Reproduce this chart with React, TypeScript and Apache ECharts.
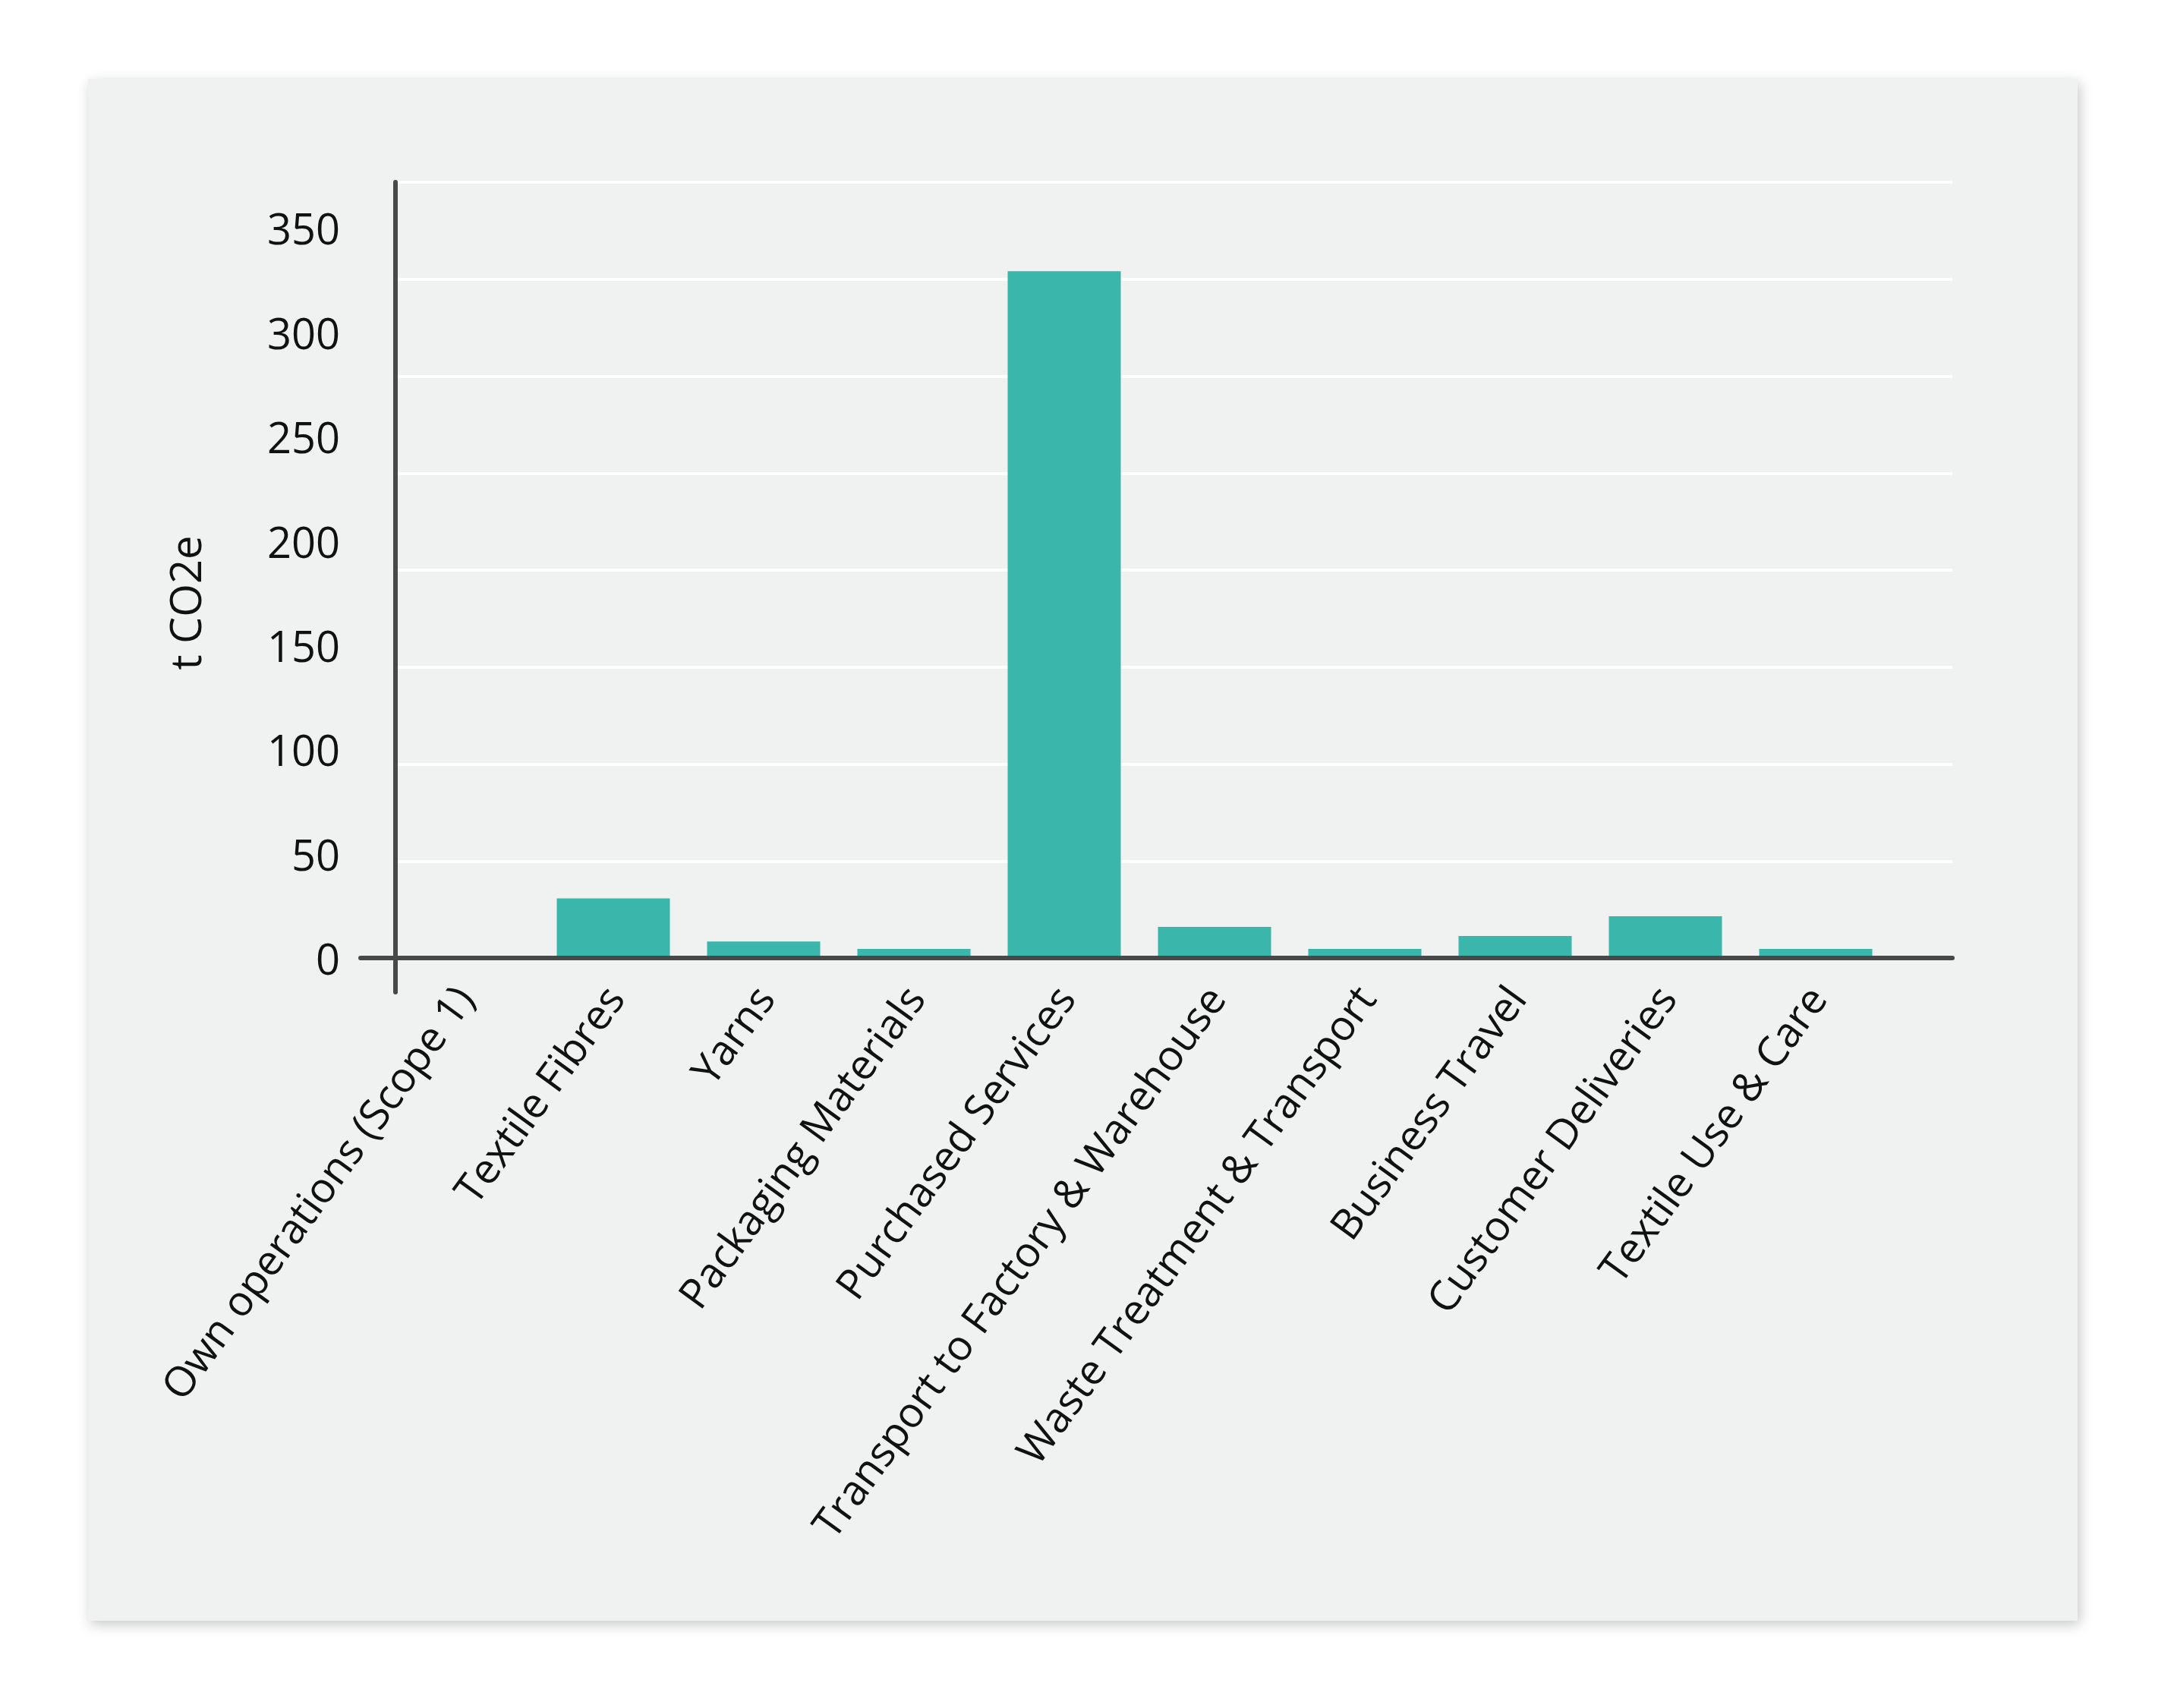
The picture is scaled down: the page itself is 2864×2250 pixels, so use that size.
import React, { useEffect, useRef } from "react";
import * as echarts from "echarts";

const categories = [
  "Own operations (Scope 1)",
  "Textile Fibres",
  "Yarns",
  "Packaging Materials",
  "Purchased Services",
  "Transport to Factory & Warehouse",
  "Waste Treatment & Transport",
  "Business Travel",
  "Customer Deliveries",
  "Textile Use & Care",
];
const emissions = [0, 28.6, 7.9, 4.4, 329.3, 14.9, 4.4, 10.6, 20.0, 4.4];
const yTicks = [0, 50, 100, 150, 200, 250, 300, 350];
const yAxisName = "t CO2e";

const FONT = "'Open Sans', 'Noto Sans', sans-serif";
const AXIS_COLOR = "#464948";
const BAR_COLOR = "#3ab6aa";

export default function App() {
  const ref = useRef<HTMLDivElement>(null);

  useEffect(() => {
    document.body.style.margin = "0";
    if (!ref.current) return;
    const chart = echarts.init(ref.current, undefined, { renderer: "svg" });
    const hidden = { show: false };
    chart.setOption({
      animation: false,
      backgroundColor: "transparent",
      textStyle: { fontFamily: FONT },
      grid: [
        { left: 511, right: 373, top: 240, bottom: 988 },
        { left: 521, right: 292, top: 240, bottom: 988 },
        { left: 475, right: 292, top: 240, bottom: 943 },
        { left: 511, right: 373, top: 240, bottom: 902 },
      ],
      xAxis: [
        {
          type: "category",
          gridIndex: 0,
          data: categories,
          axisLine: hidden,
          axisTick: hidden,
          splitLine: hidden,
          axisLabel: {
            rotate: 54,
            margin: 42,
            interval: 0,
            fontSize: 55,
            color: "#111",
            fontFamily: FONT,
          },
        },
        { type: "value", gridIndex: 1, min: 0, max: 1, show: false },
        {
          type: "value",
          gridIndex: 2,
          min: 0,
          max: 1,
          offset: -45,
          z: 5,
          axisLine: { show: true, lineStyle: { color: AXIS_COLOR, width: 6 } },
          axisTick: hidden,
          axisLabel: hidden,
          splitLine: hidden,
        },
        { type: "value", gridIndex: 3, min: 0, max: 1, show: false },
      ],
      yAxis: [
        {
          type: "value",
          gridIndex: 0,
          min: 0,
          max: 372,
          interval: 50,
          axisLine: hidden,
          axisTick: hidden,
          splitLine: hidden,
          axisLabel: {
            margin: 63,
            fontSize: 56,
            color: "#111",
            fontFamily: FONT,
            formatter: (v: number) => (yTicks.includes(v) ? String(v) : ""),
          },
        },
        {
          type: "value",
          gridIndex: 1,
          min: 0,
          max: 8,
          interval: 1,
          axisLine: hidden,
          axisTick: hidden,
          axisLabel: hidden,
          splitLine: { show: true, lineStyle: { color: "#ffffff", width: 4 } },
        },
        {
          type: "value",
          gridIndex: 2,
          min: 0,
          max: 1,
          offset: -46,
          z: 5,
          axisLine: { show: true, lineStyle: { color: AXIS_COLOR, width: 6 } },
          axisTick: hidden,
          axisLabel: hidden,
          splitLine: hidden,
        },
        {
          type: "value",
          gridIndex: 3,
          min: 0,
          max: 1,
          name: yAxisName,
          nameLocation: "middle",
          nameGap: 240,
          nameTextStyle: { fontSize: 56, color: "#111", fontFamily: FONT },
          axisLine: hidden,
          axisTick: hidden,
          axisLabel: hidden,
          splitLine: hidden,
        },
      ],
      series: [
        {
          type: "bar",
          xAxisIndex: 0,
          yAxisIndex: 0,
          data: emissions,
          barWidth: 149,
          itemStyle: { color: BAR_COLOR },
          z: 2,
        },
      ],
    });
    return () => chart.dispose();
  }, []);

  return (
    <div style={{ position: "relative", width: 2864, height: 2250, background: "#ffffff", overflow: "hidden" }}>
      <div
        style={{
          position: "absolute",
          left: 116,
          top: 104,
          width: 2621,
          height: 2031,
          background: "#f0f2f1",
          boxShadow: "3px 5px 16px rgba(0,0,0,0.22)",
        }}
      />
      <div ref={ref} style={{ position: "absolute", left: 0, top: 0, width: 2864, height: 2250 }} />
    </div>
  );
}
